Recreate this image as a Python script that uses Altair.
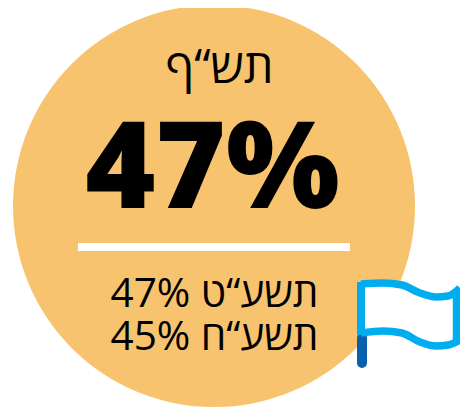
import altair as alt
import pandas as pd

# Values and labels
headline = "47%"
current_year = "תש“ף"
prior_rows = ["47% תשע“ט", "45% תשע“ח"]
prior_x = [214.5, 214.5]
prior_y = [307, 350]

circle_x = [214]
circle_y = [206]

top_x = [361, 383, 402, 420, 436, 448, 460]
top_y = [284, 283, 285, 293, 297, 296, 288]
bot_x = [361, 383, 402, 420, 436, 448, 460]
bot_y = [333, 331, 333, 342, 346, 345, 340]

X = alt.Scale(domain=[8, 460], range=[0, 452], nice=False, zero=False)
Y = alt.Scale(domain=[8, 409], range=[0, 401], nice=False, zero=False)
x_ = lambda f="x": alt.X(f"{f}:Q", scale=X, axis=None)
y_ = lambda f="y": alt.Y(f"{f}:Q", scale=Y, axis=None)

ORANGE = "#f8c36e"
SKY = "#00aeef"

circle = alt.Chart(pd.DataFrame({"x": circle_x, "y": circle_y})).mark_point(
    filled=True, opacity=1, color=ORANGE, size=402**2, clip=False
).encode(x=x_(), y=y_())

bar = alt.Chart(pd.DataFrame({"x": [78], "x2": [350], "y": [247]})).mark_rule(
    color="white", strokeWidth=8
).encode(x=x_(), x2="x2:Q", y=y_())

def txt(text, x, y, size, weight, font="Open Sans"):
    return alt.Chart(pd.DataFrame({"x": [x], "y": [y], "t": [text]})).mark_text(
        font=font, fontSize=size, fontWeight=weight, color="black",
        align="center", baseline="alphabetic"
    ).encode(x=x_(), y=y_(), text="t:N")

flag_df = pd.DataFrame({"x": top_x, "y": top_y, "y2": bot_y})
flag_fill = alt.Chart(flag_df).mark_area(color="white", interpolate="monotone", opacity=1).encode(
    x=x_(), y=y_(), y2="y2:Q"
)
top_line = alt.Chart(pd.DataFrame({"x": top_x, "y": top_y})).mark_line(
    color=SKY, strokeWidth=7.5, interpolate="monotone"
).encode(x=x_(), y=y_())
bot_line = alt.Chart(pd.DataFrame({"x": bot_x, "y": bot_y})).mark_line(
    color=SKY, strokeWidth=7.5, interpolate="monotone"
).encode(x=x_(), y=y_())
left = alt.Chart(pd.DataFrame({"x": [361], "y": [282], "y2": [335]})).mark_rule(
    color=SKY, strokeWidth=8
).encode(x=x_(), y=y_(), y2="y2:Q")
right = alt.Chart(pd.DataFrame({"x": [456.5], "y": [291], "y2": [343]})).mark_rule(
    color=SKY, strokeWidth=7.5
).encode(x=x_(), y=y_(), y2="y2:Q")
pole = alt.Chart(pd.DataFrame({"x": [362], "y": [338], "y2": [363]})).mark_rule(
    color="#0b60ad", strokeWidth=10, strokeCap="round"
).encode(x=x_(), y=y_(), y2="y2:Q")

chart = alt.layer(
    circle, bar,
    txt(current_year, 219.5, 83, 47, 400),
    txt(headline, 212.5, 208, 120, 800),
    txt(prior_rows[0], prior_x[0], prior_y[0], 40.5, 400),
    txt(prior_rows[1], prior_x[1], prior_y[1], 40.5, 400),
    pole, flag_fill, top_line, bot_line, left, right,
).properties(
    width=452, height=401, padding=0, autosize=alt.AutoSizeParams(type="none"),
    background="white"
).configure_view(stroke=None)

chart.save("out.html", embed_options={"renderer": "svg", "actions": False})
